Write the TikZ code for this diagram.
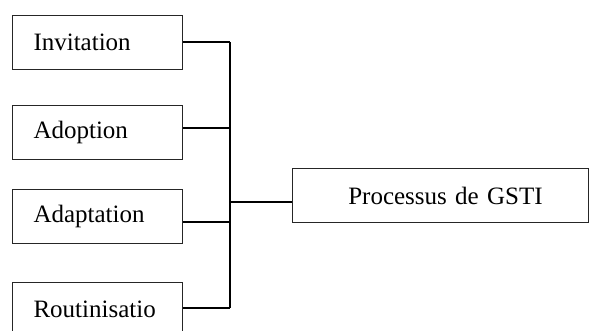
\documentclass[tikz,border=0pt]{standalone}
\usepackage{fontspec}
\setmainfont{Liberation Serif}
\begin{document}
\begin{tikzpicture}[x=1pt,y=-1pt,
  box/.style={draw=black!85, line width=1pt, minimum width=170pt, minimum height=54pt,
    inner sep=0pt, text width=128pt, align=left, font=\fontsize{25}{29}\selectfont},
  bigbox/.style={draw=black!85, line width=1pt, minimum width=296pt, minimum height=54pt,
    inner sep=0pt, text width=280pt, align=center, font=\fontsize{25}{29}\selectfont},
  wire/.style={line width=1.5pt}]
\useasboundingbox (0,0) rectangle (589,331);
\clip (0,0) rectangle (589,331);
\node[box, anchor=north west] (inv) at (12,15) {Invitation};
\node[box, anchor=north west] (ado) at (12,105) {Adoption};
\node[box, anchor=north west] (ada) at (12,189) {Adaptation};
\node[box, anchor=north west] (rou) at (12,282) {Routinisatio};
\node[bigbox, anchor=north west] (gsti) at (292,168) {\hspace*{10pt}Processus de GSTI};
\coordinate (b1) at (230,42);
\coordinate (b2) at (230,128);
\coordinate (b3) at (230,222);
\coordinate (b4) at (230,308);
\coordinate (bm) at (230,202);
\draw[wire] (inv.east |- b1) -- (b1);
\draw[wire] (ado.east |- b2) -- (b2);
\draw[wire] (ada.east |- b3) -- (b3);
\draw[wire] (rou.east |- b4) -- (b4);
\draw[wire] (b1) -- (b4);
\draw[wire] (bm) -- (gsti.west |- bm);
\end{tikzpicture}
\end{document}
